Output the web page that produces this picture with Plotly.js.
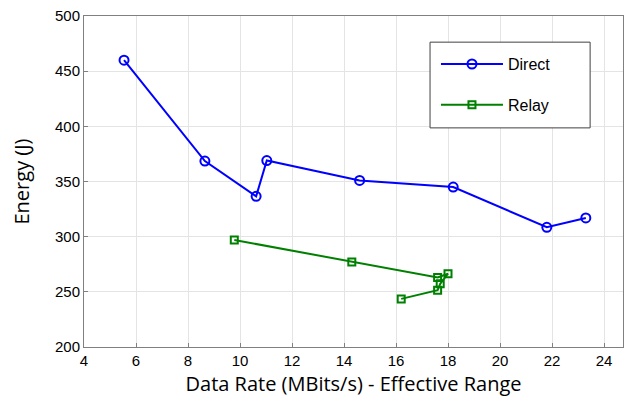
<!DOCTYPE html>
<html>
<head>
<meta charset="utf-8">
<script src="https://cdn.plot.ly/plotly-3.0.1.min.js"></script>
<style>html,body{margin:0;padding:0;background:#fff;}#chart{width:625px;height:398px;}</style>
</head>
<body>
<div id="chart"></div>
<script>
const directRate = [5.54, 8.65, 10.62, 11.03, 14.6, 18.2, 21.8, 23.3];
const directEnergy = [460, 368.5, 336.6, 369, 351, 345, 308.5, 317];
const relayRate = [9.78, 14.3, 17.6, 18.0, 17.7, 17.6, 16.2];
const relayEnergy = [297, 277, 263, 266.4, 257.3, 251.5, 243.6];
const seriesNames = ['Direct', 'Relay'];
const xTicks = [4, 6, 8, 10, 12, 14, 16, 18, 20, 22, 24];
const yTicks = [200, 250, 300, 350, 400, 450, 500];

const traces = [
  {x: directRate, y: directEnergy, name: seriesNames[0], type: 'scatter', mode: 'lines+markers',
   legendgroup: 'a',
   line: {color: '#0000ff', width: 2},
   marker: {symbol: 'circle-open', size: 9, color: '#0000ff', line: {width: 2, color: '#0000ff'}}},
  {x: relayRate, y: relayEnergy, name: seriesNames[1], type: 'scatter', mode: 'lines+markers',
   legendgroup: 'b',
   line: {color: '#008000', width: 2},
   marker: {symbol: 'square-open', size: 7, color: '#008000', line: {width: 2, color: '#008000'}}}
];

const axisCommon = {
  showline: true, mirror: true, linecolor: '#808080', linewidth: 1,
  ticks: 'inside', ticklen: 4, tickcolor: '#808080',
  showgrid: true, gridcolor: '#e4e4e4', gridwidth: 1,
  zeroline: false,
  tickfont: {family: 'Liberation Sans, Arial, sans-serif', size: 15, color: '#000'}
};

const layout = {
  width: 625, height: 398,
  margin: {l: 84, r: 2, t: 16, b: 51},
  paper_bgcolor: '#fff', plot_bgcolor: '#fff',
  showlegend: true,
  shapes: [{
    type: 'rect', xref: 'paper', yref: 'paper',
    x0: 0.642, x1: 0.939, y0: 0.662, y1: 0.921,
    fillcolor: '#fff', line: {color: '#404040', width: 1}, layer: 'above'
  }],
  legend: {
    x: 0.653, y: 0.906, xanchor: 'left', yanchor: 'top',
    bgcolor: 'rgba(0,0,0,0)', borderwidth: 0,
    font: {family: 'Liberation Sans, Arial, sans-serif', size: 16, color: '#000'},
    itemwidth: 62, tracegroupgap: 17
  },
  xaxis: Object.assign({}, axisCommon, {
    range: [4, 24.73], tickvals: xTicks, ticktext: xTicks.map(String),
    title: {text: 'Data Rate (MBits/s) - Effective Range', standoff: 8,
      font: {family: 'Open Sans, Noto Sans, sans-serif', size: 20, color: '#000'}}
  }),
  yaxis: Object.assign({}, axisCommon, {
    range: [200, 500], tickvals: yTicks, ticktext: yTicks.map(String),
    title: {text: 'Energy (J)', standoff: 19,
      font: {family: 'Open Sans, Noto Sans, sans-serif', size: 20, color: '#000'}}
  })
};

Plotly.newPlot('chart', traces, layout, {displayModeBar: false, staticPlot: true});
</script>
</body>
</html>
